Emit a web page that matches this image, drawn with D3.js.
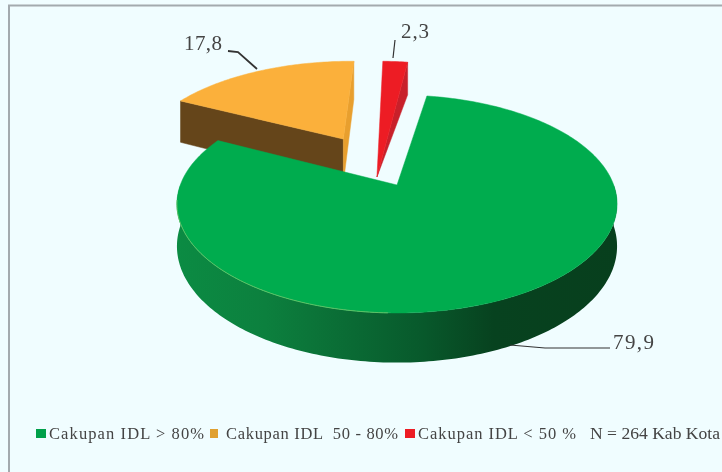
<!DOCTYPE html>
<html><head><meta charset="utf-8">
<script src="https://cdn.jsdelivr.net/npm/d3@7"></script>
<style>html,body{margin:0;padding:0;background:#f0fdff}svg{display:block}text{font-family:"Liberation Serif",serif;fill:#444}#marks{filter:blur(.5px)}#labels{filter:blur(.6px)}</style>
</head><body><svg id="c" width="722" height="472"></svg>
<script>
const categories = ["Cakupan IDL > 80%", "Cakupan IDL  50 - 80%", "Cakupan IDL < 50 %"];
const values = [79.9, 17.8, 2.3];
const valueLabels = ["79,9", "17,8", "2,3"];
const note = "N = 264 Kab Kota";
const topColors = ["#00ac4e", "#fbb03b", "#ed1c24"];
const cutColors = ["#00ac4e", "#e89f2e", "#c8202a"];

const svg = d3.select("#c");
svg.append("rect").attr("width",722).attr("height",472).attr("fill","#f0fdff");
svg.append("path").attr("d","M9,472V5.5H722").attr("fill","none").attr("stroke","#a3aaae").attr("stroke-width",2);
const marks=svg.append("g").attr("id","marks");
const labels=svg.append("g").attr("id","labels");

// perspective disc model
const AX=397, AY=185, SX=216.7, SY=105.7, K=0.174, DEPTH=41;
const explode=[[0,0],[-0.268,0.47],[-0.1,0.47]];
const wallScale=[1,1.17,1];
const toRad=d=>d*Math.PI/180;
const pie=d3.pie().sort(null).value(d=>d).startAngle(toRad(9.3)).endAngle(toRad(369.3));
const arcs=pie(values);
function proj(x,y,z){const w=1+K*y;return [AX+SX*x/w, AY-SY*y/w+z*DEPTH/w];}
function rim(i,t,low){const e=explode[i];return proj(e[0]+Math.sin(t),e[1]+Math.cos(t),low?wallScale[i]:0);}
function apex(i,low){const e=explode[i];return proj(e[0],e[1],low?wallScale[i]:0);}
const line=d3.line();
function samples(a,b){const n=Math.max(4,Math.ceil((b-a)/toRad(1)));return d3.range(n+1).map(j=>a+(b-a)*j/n);}
function poly(pts,fill,stroke){marks.append("path").attr("d",line(pts)+"Z").attr("fill",fill).attr("stroke",stroke||fill).attr("stroke-width",0.5);}

const defs=svg.append("defs");
const grad=defs.append("linearGradient").attr("id","wall").attr("gradientUnits","userSpaceOnUse").attr("x1",177).attr("x2",617).attr("y1",0).attr("y2",0);
[[0,"#0b8b43"],[0.2,"#0c803e"],[0.4,"#0a6a34"],[0.55,"#085a2c"],[0.72,"#07421f"],[1,"#073f1d"]].forEach(s=>grad.append("stop").attr("offset",s[0]).attr("stop-color",s[1]));

// orange: left cut, right cut, top
(function(){
  const i=1,a=arcs[i];
  poly([apex(i),rim(i,a.startAngle),rim(i,a.startAngle,1),apex(i,1)],"#65451a");
  poly([apex(i),rim(i,a.endAngle),rim(i,a.endAngle,1),apex(i,1)],cutColors[i]);
  poly([apex(i),...samples(a.startAngle,a.endAngle).map(t=>rim(i,t))],topColors[i]);
})();
// red: the light face runs to the lower point of the wedge
(function(){
  const i=2,a=arcs[i];
  poly([apex(i,1),rim(i,a.endAngle),rim(i,a.endAngle,1)],cutColors[i]);
  poly([apex(i,1),...samples(a.startAngle,a.endAngle).map(t=>rim(i,t))],topColors[i]);
})();
// green wall
const g=arcs[0];
const front=samples(toRad(90),toRad(270));
poly([...front.map(t=>rim(0,t)),...front.slice().reverse().map(t=>rim(0,t,1))],"url(#wall)","none");
poly([apex(0),...samples(g.startAngle,g.endAngle).map(t=>rim(0,t))],topColors[0]);
// light edge on the front-left rim
marks.append("path").attr("d",line(samples(toRad(182),toRad(262)).map(t=>rim(0,t)))).attr("fill","none").attr("stroke","#5cc165").attr("stroke-width",1);

// leaders
[[[228,51],[238,52],[257,69]],[[395,40],[393,58]],[[510,345],[545,348],[610,348]]].forEach((p,i)=>{
  labels.append("path").attr("d",line(p)).attr("fill","none").attr("stroke","#333").attr("stroke-width",i===0?1.8:1.2);
});
[[184,50,38],[401,38,28],[613,349,41]].forEach((p,i)=>{
  const idx=[1,2,0][i];
  labels.append("text").attr("x",p[0]).attr("y",p[1]).attr("font-size",21).attr("textLength",p[2]).text(valueLabels[idx]);
});
// legend
const lx=[36,210,405], tx=[49,226,418], tl=[155,172,158];
categories.forEach((c,i)=>{
  labels.append("rect").attr("x",lx[i]).attr("y",429).attr("width",i===1?8:10).attr("height",9).attr("fill",i===1?"#e0a030":i===0?"#00a04a":topColors[i]);
  labels.append("text").attr("x",tx[i]).attr("y",439).attr("font-size",16.5).attr("textLength",tl[i]).style("white-space","pre").text(c);
});
labels.append("text").attr("x",590).attr("y",439).attr("font-size",16.5).attr("textLength",130).attr("lengthAdjust","spacingAndGlyphs").text(note);
</script></body></html>
